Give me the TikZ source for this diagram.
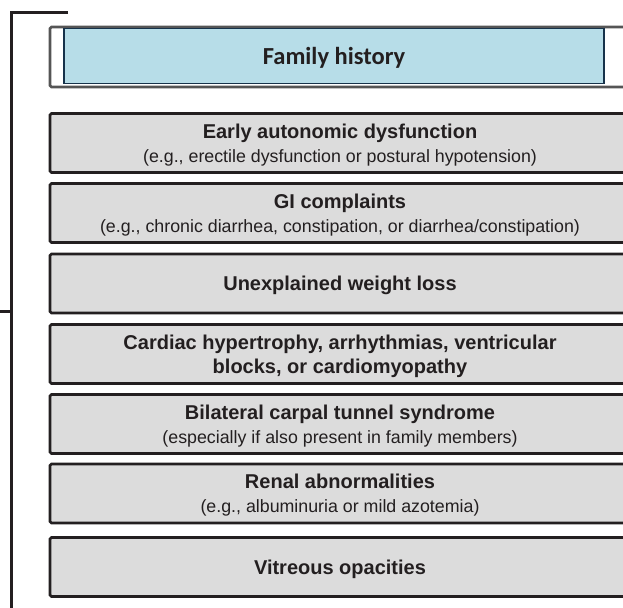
\documentclass[tikz,border=0pt]{standalone}
\usepackage{fontspec}
\setmainfont{Liberation Sans}
\newfontfamily\calibri{Carlito}
\usetikzlibrary{positioning}
\definecolor{LightBlue}{RGB}{183, 221, 232}
\definecolor{BoxGrey}{RGB}{220, 220, 220}
\definecolor{NavyLine}{RGB}{22, 50, 74}
\definecolor{FrameGrey}{RGB}{85, 85, 85}
\definecolor{InkBlack}{RGB}{35, 31, 32}

\begin{document}
\begin{tikzpicture}[x=1pt, y=-1pt,
	sign/.style={draw=InkBlack, line width=2.8pt, fill=BoxGrey, rounded corners=1.5pt,
		minimum width=580pt, minimum height=59pt, inner sep=0pt, align=center,
		text depth=0pt, text=InkBlack, font=\fontsize{20}{24}\selectfont},
	]
	\useasboundingbox (0,0) rectangle (623,607);
	% bracket on the left
	\draw[line width=3pt, InkBlack] (68,13) -- (11,13) -- (11,620);
	\draw[line width=3pt, InkBlack] (0,311) -- (11,311);
	% family history header
	\draw[line width=2.8pt, FrameGrey, fill=white, rounded corners=1.5pt] (50,27) rectangle (640,87);
	\node[draw=NavyLine, line width=1.2pt, fill=LightBlue, minimum width=540pt, minimum height=55pt,
		inner sep=0pt, text depth=0pt, font=\calibri\bfseries\fontsize{24.5}{28}\selectfont, text=InkBlack]
		(history) at (334,56) {Family history};
	% signs
	\node[sign] (autonomic) at (340,143) {\textbf{Early autonomic dysfunction}\\
		{\fontsize{17.8}{24}\selectfont (e.g., erectile dysfunction or postural hypotension)}};
	\node[sign] (gi) at (340,213) {\textbf{GI complaints}\\
		{\fontsize{17.8}{24}\selectfont (e.g., chronic diarrhea, constipation, or diarrhea/constipation)}};
	\node[sign] (weight) at (340,283.5) {\textbf{Unexplained weight loss}};
	\node[sign] (cardiac) at (340,354) {\textbf{Cardiac hypertrophy, arrhythmias, ventricular}\\
		\textbf{blocks, or cardiomyopathy}};
	\node[sign] (carpal) at (340,424) {\textbf{Bilateral carpal tunnel syndrome}\\
		{\fontsize{17.8}{24}\selectfont (especially if also present in family members)}};
	\node[sign] (renal) at (340,493.5) {\textbf{Renal abnormalities}\\
		{\fontsize{17.8}{24}\selectfont (e.g., albuminuria or mild azotemia)}};
	\node[sign] (vitreous) at (340,567) {\textbf{Vitreous opacities}};
\end{tikzpicture}
\end{document}
